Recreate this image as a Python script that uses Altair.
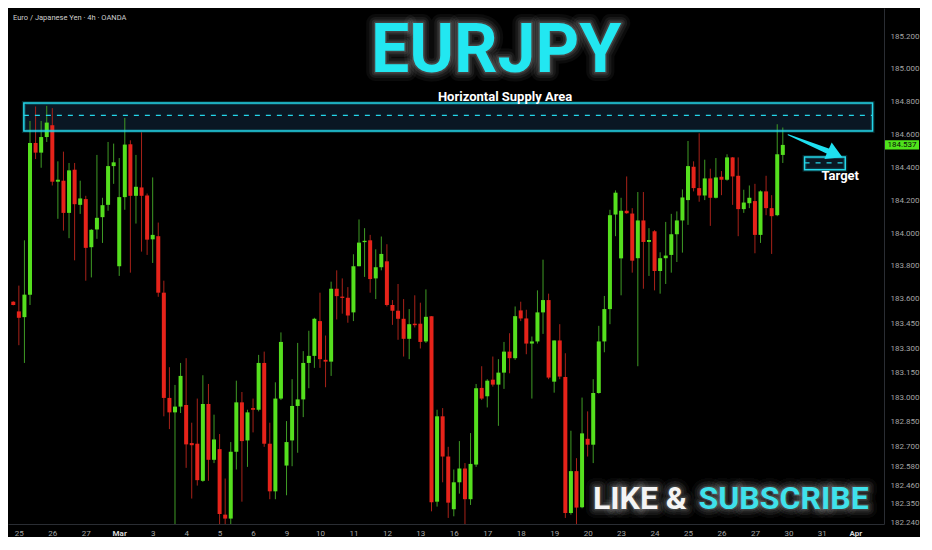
import altair as alt
import numpy as np
import pandas as pd

# ---------------- data (EUR/JPY, 4h candles) ----------------
opens = [183.582, 183.523, 183.488, 183.625, 184.549, 184.490, 184.585, 184.657, 184.313, 184.319,
         184.123, 184.386, 184.172, 184.207, 183.914, 184.022, 184.097, 184.172, 184.408, 183.798,
         184.219, 184.541, 184.227, 184.278, 184.229, 183.962, 183.981, 183.637, 182.996, 182.908,
         182.943, 182.953, 182.721, 182.717, 182.491, 182.959, 182.619, 182.684, 182.285, 182.261,
         182.668, 182.969, 182.737, 182.934, 182.924, 183.209, 182.717, 182.427, 182.992, 182.584,
         182.737, 182.947, 182.987, 183.209, 183.252, 183.464, 183.228, 183.217, 183.661, 183.612,
         183.606, 183.517, 183.798, 183.946, 183.956, 183.724, 183.792, 183.828, 183.562, 183.527,
         183.478, 183.356, 183.448, 183.448, 183.340, 183.494, 182.364, 182.884, 182.639, 182.318,
         182.482, 182.566, 182.379, 182.590, 183.057, 183.006, 183.107, 183.077, 183.150, 183.278,
         183.238, 183.529, 183.480, 183.327, 183.340, 183.517, 183.592, 183.095, 183.346, 183.124,
         182.295, 182.550, 182.330, 182.747, 182.711, 183.026, 183.340, 183.537, 184.113, 183.846,
         184.136, 184.119, 183.847, 184.077, 183.946, 184.011, 183.769, 183.847, 183.867, 183.993,
         184.077, 184.201, 184.404, 184.274, 184.229, 184.333, 184.215, 184.343, 184.325, 184.461,
         184.349, 184.146, 184.182, 184.195, 183.989, 184.254, 184.152, 184.109, 184.476]
highs = [183.585, 183.680, 183.956, 184.683, 184.771, 184.683, 184.775, 184.761, 184.437, 184.496,
         184.427, 184.427, 184.319, 184.227, 184.024, 184.476, 184.215, 184.555, 184.545, 184.457,
         184.702, 184.565, 184.476, 184.614, 184.241, 184.339, 184.064, 183.710, 183.183, 183.075,
         183.209, 183.238, 182.845, 182.992, 183.134, 183.081, 182.894, 182.776, 182.505, 182.727,
         183.101, 183.032, 182.924, 182.992, 183.258, 183.278, 182.845, 183.091, 183.395, 182.855,
         183.110, 183.331, 183.281, 183.405, 183.484, 183.637, 183.376, 183.704, 183.773, 183.724,
         183.671, 183.871, 184.083, 184.030, 183.989, 183.901, 183.979, 183.932, 183.592, 183.690,
         183.598, 183.537, 183.621, 183.576, 183.657, 183.494, 182.924, 182.934, 182.698, 182.560,
         182.733, 182.599, 182.782, 183.081, 183.189, 183.110, 183.248, 183.232, 183.337, 183.390,
         183.553, 183.582, 183.533, 183.370, 183.651, 183.838, 183.631, 183.346, 183.445, 183.268,
         182.796, 182.629, 182.998, 182.914, 183.110, 183.435, 183.617, 184.142, 184.260, 184.215,
         184.345, 184.152, 184.250, 184.250, 184.030, 184.018, 183.883, 184.068, 184.117, 184.132,
         184.266, 184.561, 184.437, 184.608, 184.447, 184.392, 184.457, 184.378, 184.480, 184.463,
         184.461, 184.264, 184.290, 184.300, 184.260, 184.349, 184.231, 184.663, 184.643]
lows = [183.560, 183.317, 183.209, 183.562, 184.451, 184.398, 184.555, 184.290, 184.087, 184.015,
        183.969, 183.834, 184.117, 183.710, 183.730, 183.965, 183.940, 184.136, 184.300, 183.739,
        184.142, 183.759, 184.058, 183.887, 183.867, 183.818, 183.612, 182.884, 182.806, 182.200,
        182.904, 182.570, 182.383, 182.462, 182.485, 182.491, 182.599, 182.220, 182.220, 182.220,
        182.560, 182.364, 182.576, 182.786, 182.914, 182.698, 182.379, 182.379, 182.983, 182.403,
        182.580, 182.662, 182.879, 183.055, 183.179, 183.179, 183.061, 183.130, 183.474, 183.509,
        183.454, 183.464, 183.798, 183.733, 183.637, 183.598, 183.773, 183.553, 183.441, 183.350,
        183.248, 183.232, 183.425, 183.297, 183.331, 182.305, 182.334, 182.482, 182.265, 182.275,
        182.413, 182.220, 182.344, 182.576, 182.983, 182.938, 183.065, 182.826, 183.051, 183.146,
        183.228, 183.464, 183.262, 182.992, 183.327, 183.386, 183.110, 183.028, 183.110, 182.265,
        182.285, 182.220, 182.324, 182.639, 182.599, 183.022, 183.274, 183.445, 183.981, 183.621,
        184.117, 183.759, 183.189, 183.661, 183.739, 183.651, 183.631, 183.690, 183.759, 183.824,
        183.881, 184.050, 184.254, 184.191, 184.201, 184.044, 184.211, 184.231, 184.319, 184.172,
        183.981, 184.123, 184.152, 183.877, 183.940, 184.109, 183.873, 184.103, 184.427]
closes = [183.562, 183.484, 183.625, 184.549, 184.490, 184.585, 184.673, 184.313, 184.325, 184.123,
          184.382, 184.176, 184.211, 183.910, 184.020, 184.093, 184.170, 184.408, 184.431, 184.219,
          184.539, 184.227, 184.282, 184.227, 183.960, 183.989, 183.637, 182.996, 182.908, 182.943,
          183.130, 182.713, 182.708, 182.495, 182.959, 182.619, 182.743, 182.289, 182.261, 182.668,
          182.969, 182.733, 182.908, 182.924, 183.209, 182.717, 182.427, 182.992, 183.337, 182.727,
          182.947, 182.987, 183.209, 183.252, 183.478, 183.232, 183.217, 183.661, 183.616, 183.606,
          183.498, 183.798, 183.942, 183.952, 183.720, 183.792, 183.873, 183.562, 183.527, 183.478,
          183.356, 183.445, 183.439, 183.337, 183.490, 182.360, 182.884, 182.639, 182.358, 182.482,
          182.566, 182.379, 182.594, 183.055, 182.992, 183.101, 183.077, 183.150, 183.278, 183.238,
          183.494, 183.480, 183.327, 183.340, 183.517, 183.592, 183.120, 183.346, 183.126, 182.295,
          182.550, 182.328, 182.780, 182.711, 183.026, 183.340, 183.537, 184.109, 184.246, 184.136,
          184.121, 183.832, 184.077, 183.946, 183.958, 183.769, 183.847, 183.863, 183.993, 184.077,
          184.217, 184.408, 184.274, 184.229, 184.333, 184.215, 184.339, 184.325, 184.461, 184.345,
          184.146, 184.186, 184.215, 183.989, 184.254, 184.152, 184.103, 184.480, 184.537]

day_labels = ["25", "26", "27", "Mar", "3", "4", "5", "6", "9", "10", "11", "12", "13",
              "16", "17", "18", "19", "20", "23", "24", "25", "26", "27", "30", "31", "Apr"]
price_ticks = [185.2, 185.0, 184.8, 184.6, 184.4, 184.2, 184.0, 183.8, 183.6, 183.45,
               183.3, 183.15, 183.0, 182.85, 182.7, 182.58, 182.46, 182.35, 182.24]

supply_zone = [184.622, 184.793]
supply_mid = 184.717
supply_span = [1.9, 154.1]
target_zone = [184.386, 184.463]
target_mid = 184.428
target_span = [141.9, 149.2]
last_price = 184.537

# ---------------- styling ----------------
W, H = 876, 516
BG = "#000000"
GREEN, RED = "#55df1e", "#e6231a"
GWICK, RWICK = "#3f9b25", "#a82219"
CYAN = "#24d6e9"
TITLE_CYAN = "#22e7f1"
AXIS_TXT = "#a4a4a4"
FONT = "Roboto"

n = len(opens)
df = pd.DataFrame({"i": list(range(n)), "open": opens, "high": highs,
                   "low": lows, "close": closes})
up = df["close"] >= df["open"]
mid = (df["open"] + df["close"]) / 2
half = ((df["close"] - df["open"]).abs() / 2).clip(lower=0.004)
df["btop"] = mid + half
df["bbot"] = mid - half
df["bcol"] = np.where(up, GREEN, RED)
df["wcol"] = np.where(up, GWICK, RWICK)

xs = alt.Scale(domain=[-0.05, 155.25], nice=False, zero=False)
ys = alt.Scale(domain=[182.228, 185.371], nice=False, zero=False, clamp=True)

label_js = "[" + ",".join("'%s'" % s for s in day_labels) + "]"
month_test = "datum.value == 19 || datum.value == 151"
xaxis = alt.Axis(values=[1 + 6 * k for k in range(len(day_labels))],
                 labelExpr=label_js + "[round((datum.value - 1) / 6)]",
                 ticks=False, grid=False, title=None, labelAngle=0,
                 labelFont=FONT, labelFontSize=8, labelPadding=5,
                 labelColor={"condition": {"test": month_test, "value": "#d6d6d6"}, "value": AXIS_TXT},
                 labelFontWeight={"condition": {"test": month_test, "value": "bold"}, "value": "normal"},
                 domainColor="#2a2d33", labelOverlap=False)
yaxis = alt.Axis(orient="right", values=price_ticks, format=".3f", ticks=False, grid=False,
                 title=None, labelFont=FONT, labelFontSize=8, labelPadding=6,
                 labelColor=AXIS_TXT, domainColor="#2a2d33", labelOverlap=False)


def X(f, **kw):
    return alt.X(f, type="quantitative", scale=xs, axis=xaxis, **kw)


def Y(f, **kw):
    return alt.Y(f, type="quantitative", scale=ys, axis=yaxis, **kw)


zones = pd.DataFrame({
    "x1": [supply_span[0], target_span[0]], "x2": [supply_span[1], target_span[1]],
    "y1": [supply_zone[0], target_zone[0]], "y2": [supply_zone[1], target_zone[1]],
    "ym": [supply_mid, target_mid]})

zone_fill = alt.Chart(zones).mark_rect(fill="#0b1a27", opacity=0.9).encode(
    x=X("x1"), x2="x2", y=Y("y1"), y2="y2")
zone_line = alt.Chart(zones).mark_rect(fillOpacity=0, stroke=CYAN, strokeWidth=1.5).encode(
    x=X("x1"), x2="x2", y=Y("y1"), y2="y2")
zone_glow = alt.Chart(zones).mark_rect(fillOpacity=0, stroke=CYAN, strokeWidth=4,
                                       strokeOpacity=0.18).encode(
    x=X("x1"), x2="x2", y=Y("y1"), y2="y2")
zone_mid = alt.Chart(zones).mark_rule(stroke=CYAN, strokeWidth=1.2, strokeDash=[5, 6]).encode(
    x=X("x1"), x2="x2", y=Y("ym"))

wicks = alt.Chart(df).mark_rule(strokeWidth=1).encode(
    x=X("i"), y=Y("low"), y2="high", color=alt.Color("wcol:N", scale=None))
bodies = alt.Chart(df).mark_bar(size=4).encode(
    x=X("i"), y=Y("bbot"), y2="btop", color=alt.Color("bcol:N", scale=None))

# arrow toward the target zone
arrow_df = pd.DataFrame({"x": [138.96, 146.8], "y": [184.599, 184.489], "w": [1.0, 6.0]})
arrow_shaft = alt.Chart(arrow_df).mark_trail(color="#1fe0f0").encode(
    x=X("x"), y=Y("y"), size=alt.Size("w:Q", scale=None, legend=None))
head_df = pd.DataFrame({"x": [147.39], "y": [184.482]})
arrow_head = alt.Chart(head_df).mark_point(shape="triangle-right", filled=True, size=330,
                                           angle=24, color="#1fe0f0", opacity=1).encode(
    x=X("x"), y=Y("y"))


def text_layer(x, y, txt, size, color, align="center", weight="bold", glow=False):
    d = pd.DataFrame({"x": [x], "y": [y], "t": [txt]})
    layers = []
    if glow:
        for sw, op in [(18, 0.045), (12, 0.06), (7, 0.08), (3, 0.12)]:
            layers.append(alt.Chart(d).mark_text(
                font=FONT, fontSize=size, fontWeight=weight, align=align, baseline="alphabetic",
                fill=BG, fillOpacity=0, stroke="#ffffff", strokeWidth=sw, strokeOpacity=op,
                strokeJoin="round").encode(x=X("x"), y=Y("y"), text="t:N"))
    layers.append(alt.Chart(d).mark_text(
        font=FONT, fontSize=size, fontWeight=weight, align=align, baseline="alphabetic",
        color=color).encode(x=X("x"), y=Y("y"), text="t:N"))
    return layers


texts = []
texts += text_layer(86.6, 184.981, "EURJPY", 68, TITLE_CYAN, glow=True)
texts += text_layer(88.2, 184.803, "Horizontal Supply Area", 13, "#ffffff")
texts += text_layer(148.3, 184.321, "Target", 13, "#ffffff")
texts += text_layer(120.8, 182.317, "LIKE &", 32, "#f4f4f4", align="right", glow=True)
texts += text_layer(153.4, 182.317, "SUBSCRIBE", 32, "#3fe1eb", align="right", glow=True)

header = alt.Chart(pd.DataFrame({"t": ["Euro / Japanese Yen · 4h · OANDA"]})).mark_text(
    font=FONT, fontSize=7.5, align="left", baseline="middle", color="#cfcfcf").encode(
    x=alt.value(5), y=alt.value(10), text="t:N")

tag_df = pd.DataFrame({"lo": [last_price - 0.028], "hi": [last_price + 0.028],
                       "p": [last_price], "t": ["%.3f" % last_price]})
tag_rect = alt.Chart(tag_df).mark_rect(color="#4fe31b").encode(
    x=alt.value(W + 1), x2=alt.value(W + 35), y=Y("lo"), y2="hi")
tag_text = alt.Chart(tag_df).mark_text(font=FONT, fontSize=8, align="center",
                                       baseline="middle", color="#0a0a0a").encode(
    x=alt.value(W + 18), y=Y("p"), text="t:N")

chart = alt.layer(
    zone_fill, wicks, bodies, zone_glow, zone_line, zone_mid,
    arrow_shaft, arrow_head, *texts, header, tag_rect, tag_text
).properties(
    width=W, height=H, background=BG, padding=0
).configure_view(stroke=None)

chart.save("out.html", embed_options={"renderer": "svg", "actions": False})
